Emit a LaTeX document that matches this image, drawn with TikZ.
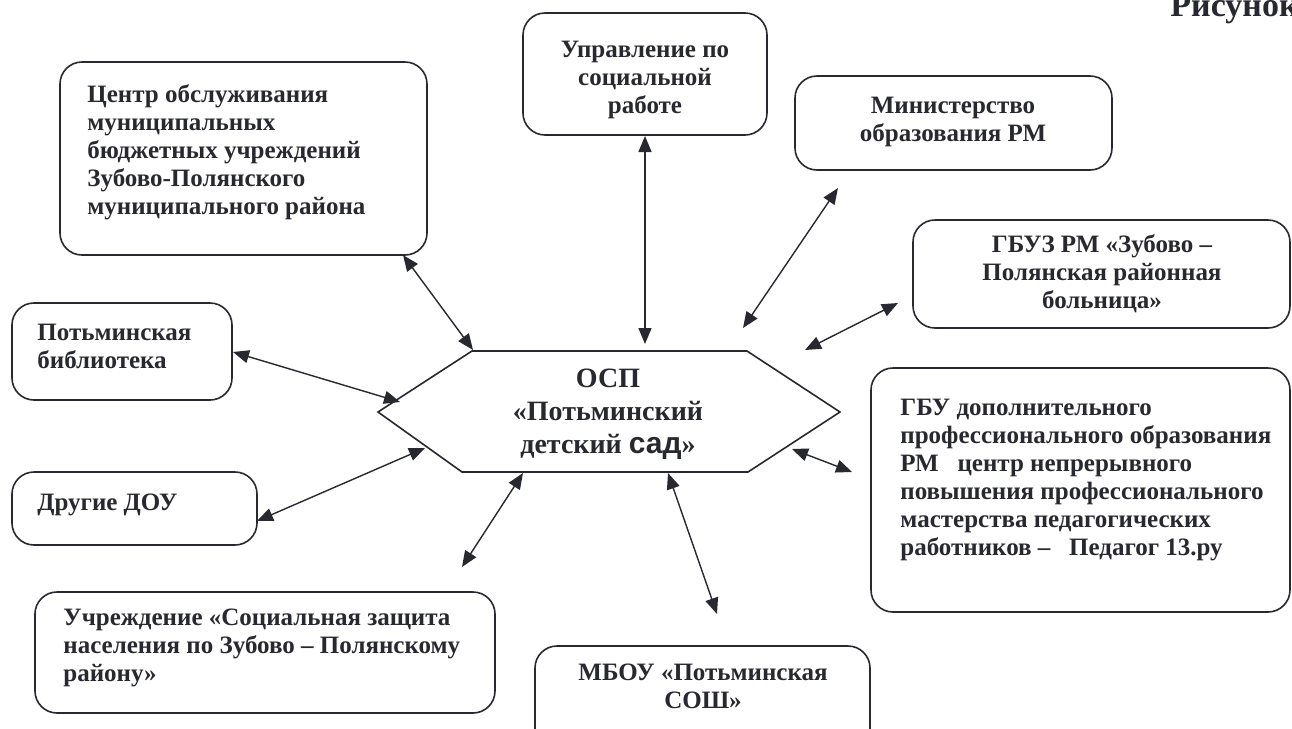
\documentclass[tikz,border=0pt]{standalone}
\usepackage{fontspec}
\setmainfont{Liberation Serif}
\newfontfamily\sansb{Liberation Sans}
\usetikzlibrary{arrows.meta}
\definecolor{ink}{RGB}{40,40,48}
\newcommand{\boxfont}{\fontsize{12.5}{14}\selectfont\bfseries}
\newcommand{\hexfont}{\fontsize{14}{16.5}\selectfont\bfseries}
\begin{document}
\begin{tikzpicture}[x=0.5pt,y=-0.5pt,
  box/.style={draw=ink, line width=0.8pt, rounded corners=11pt, inner sep=0pt},
  lt/.style={anchor=base west, inner sep=0pt, text=ink, font=\boxfont},
  ct/.style={anchor=base, inner sep=0pt, text=ink, font=\boxfont},
  dbl/.style={draw=ink, line width=0.7pt, {Triangle[length=8pt,width=6.5pt]}-{Triangle[length=8pt,width=6.5pt]}}]
\useasboundingbox (0,0) rectangle (1292,729);
\fill[white] (0,0) rectangle (1292,729);

% boxes
\node[box, minimum width=183.5pt, minimum height=96.5pt] (centr) at (243.5,158.5) {};
\node[box, minimum width=122pt, minimum height=61pt] (uprav) at (645,74) {};
\node[box, minimum width=158.5pt, minimum height=47pt] (minobr) at (953.5,123) {};
\node[box, minimum width=188.5pt, minimum height=54pt] (gbuz) at (1101.5,274) {};
\node[box, minimum width=209.5pt, minimum height=122pt] (gbu) at (1080.5,490) {};
\node[box, minimum width=110pt, minimum height=48.5pt] (bibl) at (122,351.5) {};
\node[box, minimum width=122.5pt, minimum height=36.5pt] (dou) at (134.5,508.5) {};
\node[box, minimum width=230pt, minimum height=60.5pt] (uchr) at (265,652.5) {};
\node[box, minimum width=167.5pt, minimum height=57pt] (mbou) at (702.5,703) {};

% hexagon
\draw[draw=ink, line width=0.8pt] (378,412) -- (472,351) -- (747,351) -- (840,412) -- (748,472) -- (462,472) -- cycle;
\node[anchor=base, inner sep=0pt, text=ink, font=\hexfont] (osp) at (608,387)
  {\begin{tabular}[t]{@{}c@{}}ОСП\\«Потьминский\\детский {\sansb\fontsize{15}{16.5}\selectfont сад}»\end{tabular}};

% texts
\node[lt] (tcentr) at (87,102) {\begin{tabular}[t]{@{}l@{}}Центр обслуживания\\муниципальных\\бюджетных учреждений\\Зубово-Полянского\\муниципального района\end{tabular}};
\node[ct] (tuprav) at (645,57) {\begin{tabular}[t]{@{}c@{}}Управление по\\социальной\\работе\end{tabular}};
\node[ct] (tminobr) at (953,113) {\begin{tabular}[t]{@{}c@{}}Министерство\\образования РМ\end{tabular}};
\node[ct] (tgbuz) at (1102,252) {\begin{tabular}[t]{@{}c@{}}ГБУЗ РМ «Зубово –\\Полянская районная\\больница»\end{tabular}};
\node[lt] (tgbu) at (900,415) {\begin{tabular}[t]{@{}l@{}}ГБУ дополнительного\\профессионального образования\\РМ\ \ \ центр непрерывного\\повышения профессионального\\мастерства педагогических\\работников –\ \ \ Педагог 13.ру\end{tabular}};
\node[lt] (tbibl) at (37,340) {\begin{tabular}[t]{@{}l@{}}Потьминская\\библиотека\end{tabular}};
\node[lt] (tdou) at (37,510) {Другие ДОУ};
\node[lt] (tuchr) at (63,625) {\begin{tabular}[t]{@{}l@{}}Учреждение «Социальная защита\\населения по Зубово – Полянскому\\району»\end{tabular}};
\node[ct] (tmbou) at (703,680) {\begin{tabular}[t]{@{}c@{}}МБОУ «Потьминская\\СОШ»\end{tabular}};
\node[anchor=base west, inner sep=0pt, text=ink, font=\fontsize{17}{19}\selectfont\bfseries] (ris) at (1170,16) {Рисунок};

% arrow endpoints
\coordinate (a1) at (403,255); \coordinate (b1) at (473,350);
\coordinate (a2) at (645,136); \coordinate (b2) at (645,344);
\coordinate (a3) at (838,188); \coordinate (b3) at (743,328);
\coordinate (a4) at (898,303); \coordinate (b4) at (805,350);
\coordinate (a5) at (233,352); \coordinate (b5) at (400,402);
\coordinate (a6) at (852,472); \coordinate (b6) at (792,449);
\coordinate (a7) at (257,521); \coordinate (b7) at (425,448);
\coordinate (a8) at (462,567); \coordinate (b8) at (523,473);
\coordinate (a9) at (717,614); \coordinate (b9) at (668,473);

\foreach \i in {1,...,9} {\draw[dbl] (a\i) -- (b\i);}
\end{tikzpicture}
\end{document}
